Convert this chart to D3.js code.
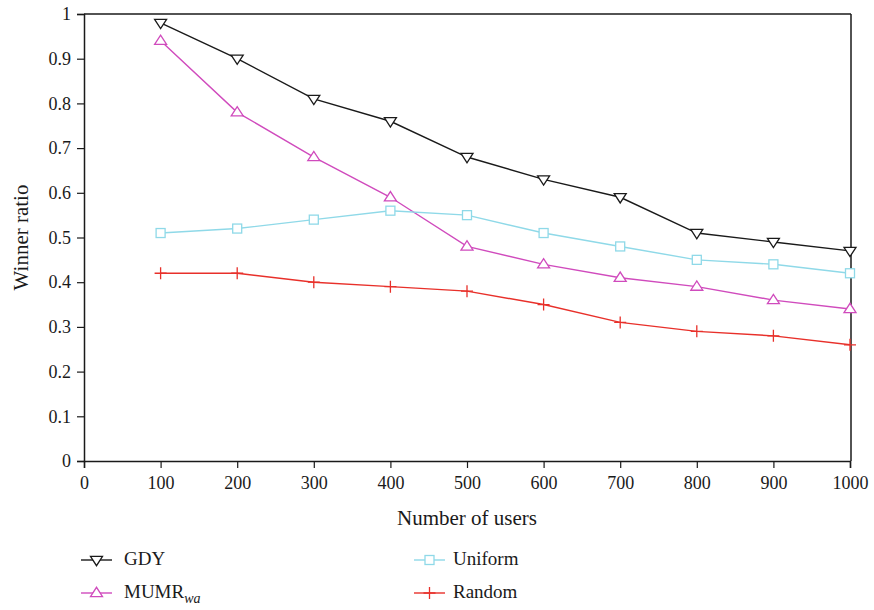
<!DOCTYPE html>
<html>
<head>
<meta charset="utf-8">
<script src="https://cdn.jsdelivr.net/npm/d3@7"></script>
<style>
  body { margin: 0; background: #fff; }
</style>
</head>
<body>
<svg id="chart" width="874" height="610"></svg>
<script>
// Users on the x axis
const users = [100, 200, 300, 400, 500, 600, 700, 800, 900, 1000];

// Winner ratio for each algorithm
const gdy     = [0.98, 0.90, 0.81, 0.76, 0.68, 0.63, 0.59, 0.51, 0.49, 0.47];
const mumr    = [0.94, 0.78, 0.68, 0.59, 0.48, 0.44, 0.41, 0.39, 0.36, 0.34];
const uniform = [0.51, 0.52, 0.54, 0.56, 0.55, 0.51, 0.48, 0.45, 0.44, 0.42];
const random  = [0.42, 0.42, 0.40, 0.39, 0.38, 0.35, 0.31, 0.29, 0.28, 0.26];

const xTicks = [0, 100, 200, 300, 400, 500, 600, 700, 800, 900, 1000];
const yTicks = [0, 0.1, 0.2, 0.3, 0.4, 0.5, 0.6, 0.7, 0.8, 0.9, 1];

const series = [
  { name: "GDY",     values: gdy,     color: "#1a1a1a", marker: "down" },
  { name: "MUMR",    values: mumr,    color: "#d04bbd", marker: "up", sub: "wa" },
  { name: "Uniform", values: uniform, color: "#8fd9e8", marker: "square" },
  { name: "Random",  values: random,  color: "#e8302a", marker: "plus" }
];

const FONT = "'Liberation Serif', 'Times New Roman', Tinos, 'DejaVu Serif', serif";
const INK = "#1a1a1a";

const svg = d3.select("#chart").attr("font-family", FONT);
const plotL = 84, plotR = 850, plotT = 14, plotB = 461;

const x = d3.scaleLinear().domain([0, 1000]).range([plotL, plotR]);
const y = d3.scaleLinear().domain([0, 1]).range([plotB, plotT]);

// Frame: top and right borders
svg.append("line").attr("x1", plotL).attr("x2", plotR + 1).attr("y1", plotT).attr("y2", plotT)
  .attr("stroke", INK).attr("stroke-width", 1.5);
svg.append("line").attr("x1", plotR + 1).attr("x2", plotR + 1).attr("y1", plotT).attr("y2", plotB)
  .attr("stroke", INK).attr("stroke-width", 1.5);

const xAxis = svg.append("g").attr("transform", `translate(0,${plotB})`)
  .call(d3.axisBottom(x).tickValues(xTicks).tickFormat(d3.format("d")).tickSizeOuter(0).tickSize(7).tickPadding(8));
const yAxis = svg.append("g").attr("transform", `translate(${plotL},0)`)
  .call(d3.axisLeft(y).tickValues(yTicks).tickFormat(d => d === 0 || d === 1 ? d3.format("d")(d) : d3.format(".1f")(d)).tickSizeOuter(0).tickSize(7).tickPadding(6));

[xAxis, yAxis].forEach(g => {
  g.attr("font-family", FONT).attr("font-size", 18);
  g.select(".domain").attr("stroke", INK).attr("stroke-width", 1.5);
  g.selectAll(".tick line").attr("stroke", INK).attr("stroke-width", 1.2);
  g.selectAll(".tick text").attr("fill", INK);
});
yAxis.selectAll(".tick text").attr("dy", "0.32em");

// Axis titles
svg.append("text").attr("x", 467).attr("y", 525).attr("text-anchor", "middle")
  .attr("font-size", 21).attr("fill", INK).text("Number of users");
svg.append("text").attr("transform", `translate(28,${(plotT + plotB) / 2}) rotate(-90)`)
  .attr("text-anchor", "middle").attr("font-size", 21).attr("fill", INK).text("Winner ratio");

function drawMarker(g, type, color) {
  const s = 6;
  if (type === "down") {
    g.append("path").attr("d", `M${-s},${-s * 0.6} L${s},${-s * 0.6} L0,${s * 0.95} Z`)
      .attr("fill", "#fff").attr("stroke", color).attr("stroke-width", 1.3);
  } else if (type === "up") {
    g.append("path").attr("d", `M${-s},${s * 0.6} L${s},${s * 0.6} L0,${-s * 0.95} Z`)
      .attr("fill", "#fff").attr("stroke", color).attr("stroke-width", 1.3);
  } else if (type === "square") {
    g.append("rect").attr("x", -4.5).attr("y", -4.5).attr("width", 9).attr("height", 9)
      .attr("fill", "#fff").attr("stroke", color).attr("stroke-width", 1.3);
  } else if (type === "plus") {
    g.append("path").attr("d", `M${-6},0 L6,0 M0,-6 L0,6`)
      .attr("stroke", color).attr("stroke-width", 1.3).attr("fill", "none");
  }
}

const line = d3.line().x(d => x(d[0])).y(d => y(d[1]));

series.forEach(sr => {
  const pts = users.map((u, i) => [u, sr.values[i]]);
  svg.append("path").datum(pts).attr("d", line).attr("fill", "none")
    .attr("stroke", sr.color).attr("stroke-width", 1.4);
  pts.forEach(p => {
    const g = svg.append("g").attr("transform", `translate(${x(p[0])},${y(p[1])})`);
    drawMarker(g, sr.marker, sr.color);
  });
});

// Legend: two columns, line sample with marker followed by the name
const legendPos = [
  { lx: 81,  ly: 560, tx: 124 },
  { lx: 81,  ly: 593, tx: 124 },
  { lx: 414, ly: 560, tx: 453 },
  { lx: 414, ly: 593, tx: 453 }
];
series.forEach((sr, i) => {
  const p = legendPos[i];
  const g = svg.append("g");
  g.append("line").attr("x1", p.lx).attr("x2", p.lx + 31).attr("y1", p.ly).attr("y2", p.ly)
    .attr("stroke", sr.color).attr("stroke-width", 1.4);
  const mg = g.append("g").attr("transform", `translate(${p.lx + 15.5},${p.ly})`);
  drawMarker(mg, sr.marker, sr.color);
  const t = g.append("text").attr("x", p.tx).attr("y", p.ly + 5).attr("font-size", 19)
    .attr("fill", INK).text(sr.name);
  if (sr.sub) {
    t.append("tspan").attr("font-size", 14).attr("font-style", "italic").attr("dy", 5).text(sr.sub);
  }
});
</script>
</body>
</html>
